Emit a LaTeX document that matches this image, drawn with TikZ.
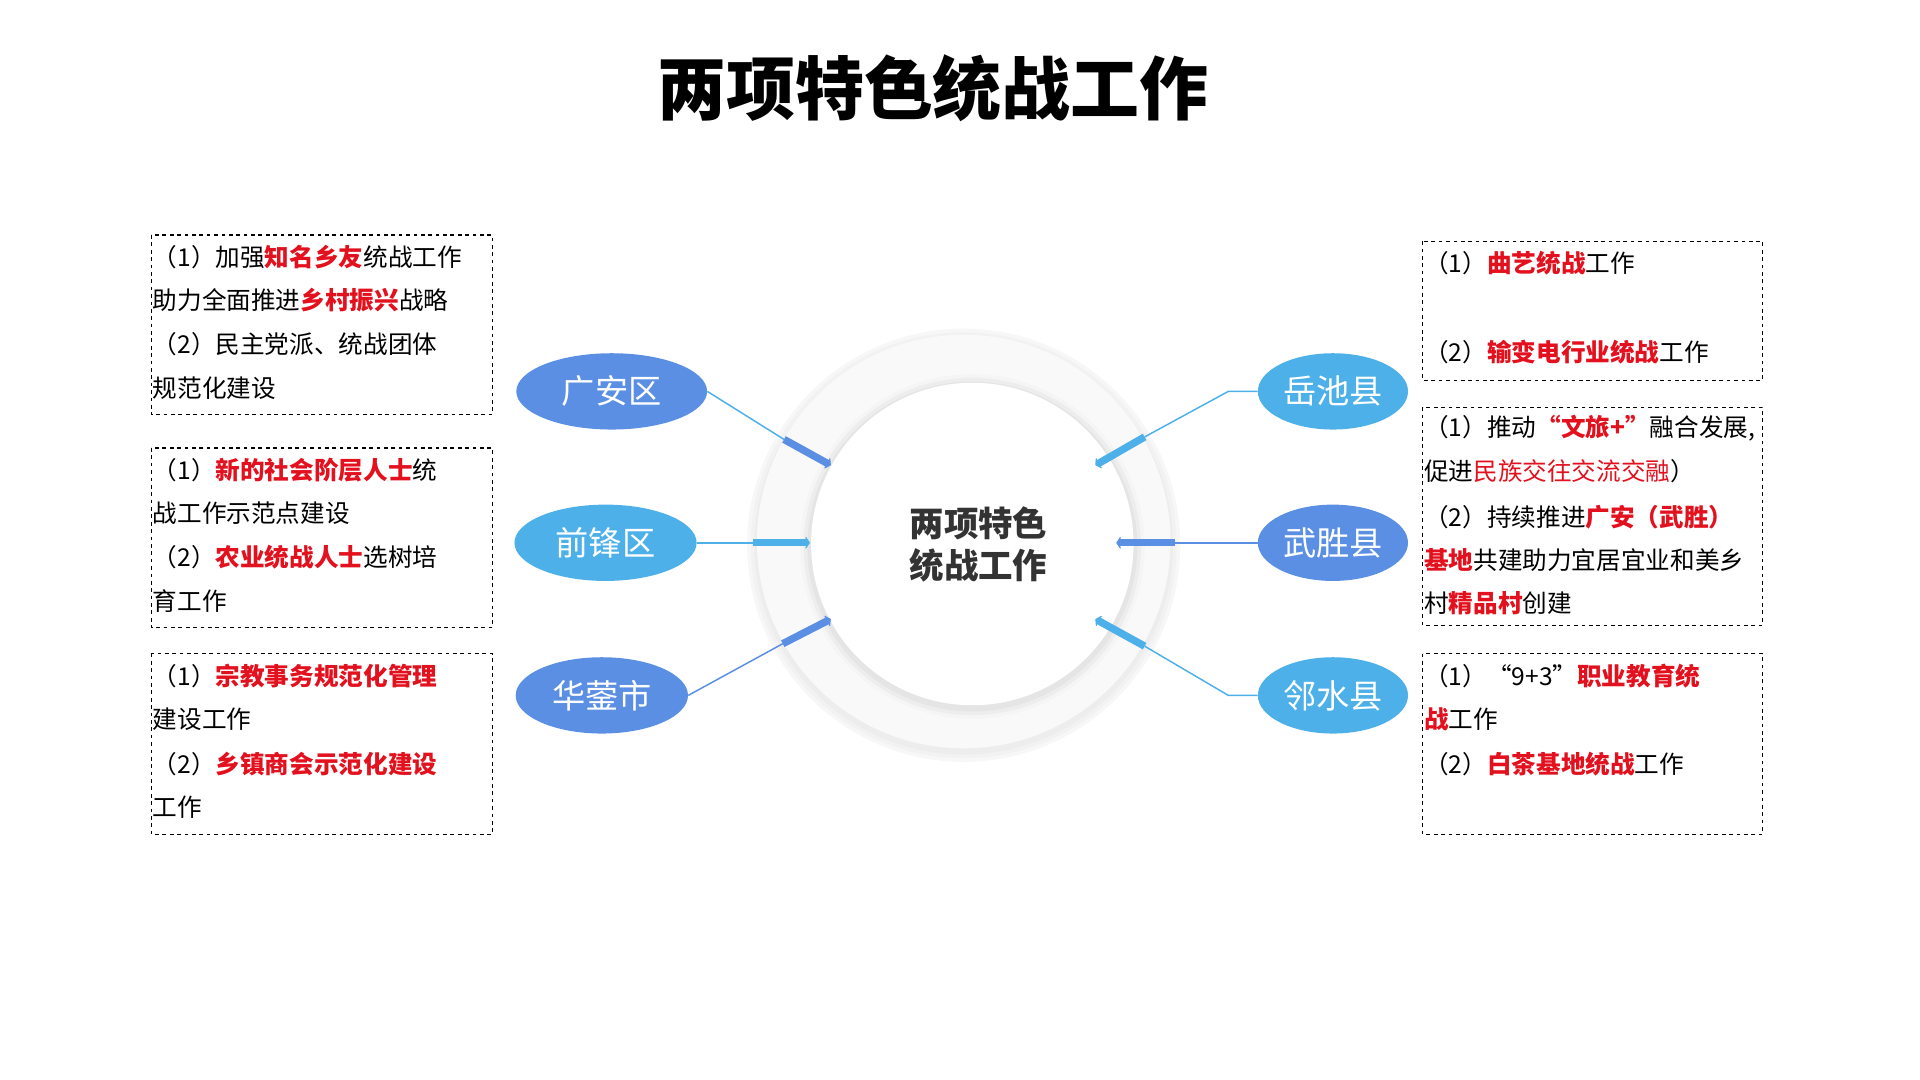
\documentclass[tikz,border=0pt]{standalone}
\usepackage{fontspec}
\setmainfont{Noto Sans CJK SC}
\newfontfamily\cjk{Noto Sans CJK SC}
\usetikzlibrary{shapes.geometric,arrows.meta}
\definecolor{bA}{HTML}{5A8FE3}
\definecolor{bB}{HTML}{4DB0E8}
\definecolor{rd}{HTML}{E3101E}
\newcommand{\rr}[1]{\textcolor{rd}{\bfseries #1}}
\begin{document}
\begin{tikzpicture}[x=1pt,y=-1pt,
  ell/.style={ellipse,minimum width=#1,minimum height=62,text=white,font=\fontsize{27}{30}\selectfont,inner sep=0},
  box/.style={draw,dashed,line width=1pt},
  ln/.style={anchor=west,inner sep=0,font=\fontsize{20}{22}\selectfont},
  thin/.style={line width=1.2pt},
  thick/.style={line width=6pt,-{Stealth[length=4pt,width=12pt,round]}}]
\useasboundingbox (0,0) rectangle (1560,877.5);
\node[font=\fontsize{56}{60}\selectfont\bfseries] (title) at (758,72) {两项特色统战工作};
% circle
\foreach \r/\c in {176/3,173/5,170/7}{\fill[black!\c] (783,443) circle (\r);}
\fill[gray!5] (783,440) circle (168);
\foreach \r/\c in {140/4,137/7,134/10}{\fill[black!\c] (790,444) circle (\r);}
\fill[white] (790,442) circle (131);
\node[align=center,font=\fontsize{28}{34}\selectfont\bfseries,text=black!80] (ctr) at (795,442) {两项特色\\统战工作};
% ellipses
\node[ell=155,fill=bA] (ga) at (497,318) {广安区};
\node[ell=148,fill=bB] (qf) at (492,441) {前锋区};
\node[ell=140,fill=bA] (hy) at (489,565) {华蓥市};
\node[ell=122,fill=bB] (yc) at (1083,318) {岳池县};
\node[ell=122,fill=bA] (ws) at (1083,441) {武胜县};
\node[ell=122,fill=bB] (ls) at (1083,565) {邻水县};
% connectors
\coordinate (a1) at (637,357); \coordinate (a2) at (675,378);
\draw[thin,bB] (ga.east) -- (a1); \draw[thick,bA] (a1) -- (a2);
\coordinate (b1) at (612,441); \coordinate (b2) at (658,441);
\draw[thin,bB] (qf.east) -- (b1); \draw[thick,bB] (b1) -- (b2);
\coordinate (c1) at (636,523); \coordinate (c2) at (675,503);
\draw[thin,bA] (hy.east) -- (c1); \draw[thick,bA] (c1) -- (c2);
\coordinate (d0) at (998,318); \coordinate (d1) at (930,355); \coordinate (d2) at (890,378);
\draw[thin,bB] (yc.west) -- (d0) -- (d1); \draw[thick,bB] (d1) -- (d2);
\coordinate (e1) at (955,441); \coordinate (e2) at (907,441);
\draw[thin,bA] (ws.west) -- (e1); \draw[thick,bA] (e1) -- (e2);
\coordinate (f0) at (998,565); \coordinate (f1) at (930,525); \coordinate (f2) at (890,503);
\draw[thin,bB] (ls.west) -- (f0) -- (f1); \draw[thick,bB] (f1) -- (f2);
% boxes
\draw[box] (123,191) rectangle (400,337);
\draw[box] (123,364) rectangle (400,510);
\draw[box] (123,531) rectangle (400,678);
\draw[box] (1156,196) rectangle (1432,309);
\draw[box] (1156,331) rectangle (1432,508);
\draw[box] (1156,531) rectangle (1432,678);
% left texts
\node[ln] (l11) at (124,209) {（1）加强\rr{知名乡友}统战工作};
\node[ln] (l12) at (124,244) {助力全面推进\rr{乡村振兴}战略};
\node[ln] (l13) at (124,280) {（2）民主党派、统战团体};
\node[ln] (l14) at (124,315) {规范化建设};
\node[ln] (l21) at (124,382) {（1）\rr{新的社会阶层人士}统};
\node[ln] (l22) at (124,417) {战工作示范点建设};
\node[ln] (l23) at (124,453) {（2）\rr{农业统战人士}选树培};
\node[ln] (l24) at (124,488) {育工作};
\node[ln] (l31) at (124,549) {（1）\rr{宗教事务规范化管理}};
\node[ln] (l32) at (124,584) {建设工作};
\node[ln] (l33) at (124,621) {（2）\rr{乡镇商会示范化建设}};
\node[ln] (l34) at (124,656) {工作};
% right texts
\node[ln] (r11) at (1157,214) {（1）\rr{曲艺统战}工作};
\node[ln] (r12) at (1157,286) {（2）\rr{输变电行业统战}工作};
\node[ln] (r21) at (1157,348) {（1）推动\rr{“文旅+”}融合发展,};
\node[ln] (r22) at (1157,383) {促进\textcolor{rd}{民族交往交流交融}）};
\node[ln] (r23) at (1157,420) {（2）持续推进\rr{广安（武胜）}};
\node[ln] (r24) at (1157,455) {\rr{基地}共建助力宜居宜业和美乡};
\node[ln] (r25) at (1157,490) {村\rr{精品村}创建};
\node[ln] (r31) at (1157,549) {（1）“9+3”\rr{职业教育统}};
\node[ln] (r32) at (1157,584) {\rr{战}工作};
\node[ln] (r33) at (1157,621) {（2）\rr{白茶基地统战}工作};
\end{tikzpicture}
\end{document}
